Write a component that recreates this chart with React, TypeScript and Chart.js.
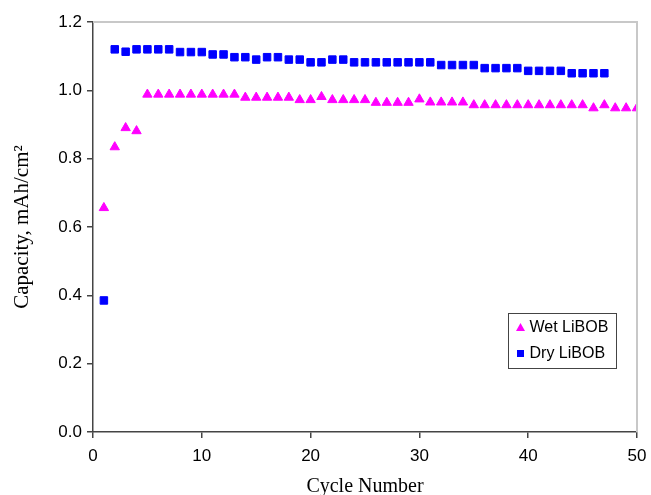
import React, { useEffect, useRef } from "react";
import { Chart, registerables } from "chart.js";

Chart.register(...registerables);

const wetCycles = [1, 2, 3, 4, 5, 6, 7, 8, 9, 10, 11, 12, 13, 14, 15, 16, 17, 18, 19, 20, 21, 22, 23, 24, 25, 26, 27, 28, 29, 30, 31, 32, 33, 34, 35, 36, 37, 38, 39, 40, 41, 42, 43, 44, 45, 46, 47, 48, 49, 50];
const wetCapacity = [
  0.656, 0.834, 0.89, 0.881,
  0.988, 0.988, 0.988, 0.988, 0.988, 0.988, 0.988, 0.988, 0.988,
  0.979, 0.979, 0.979, 0.979, 0.979,
  0.972, 0.972, 0.981,
  0.972, 0.972, 0.972, 0.972,
  0.964, 0.964, 0.964, 0.964,
  0.974,
  0.965, 0.965, 0.965, 0.965,
  0.957, 0.957, 0.957, 0.957, 0.957, 0.957, 0.957, 0.957, 0.957, 0.957, 0.957,
  0.948, 0.957, 0.948, 0.948, 0.948,
];

const dryCycles = [1, 2, 3, 4, 5, 6, 7, 8, 9, 10, 11, 12, 13, 14, 15, 16, 17, 18, 19, 20, 21, 22, 23, 24, 25, 26, 27, 28, 29, 30, 31, 32, 33, 34, 35, 36, 37, 38, 39, 40, 41, 42, 43, 44, 45, 46, 47];
const dryCapacity = [
  0.385, 1.12, 1.113,
  1.12, 1.12, 1.12, 1.12,
  1.112, 1.112, 1.112,
  1.105, 1.105,
  1.097, 1.097,
  1.09,
  1.097, 1.097,
  1.09, 1.09,
  1.082, 1.082,
  1.09, 1.09,
  1.082, 1.082, 1.082, 1.082, 1.082, 1.082, 1.082, 1.082,
  1.074, 1.074, 1.074, 1.074,
  1.065, 1.065, 1.065, 1.065,
  1.057, 1.057, 1.057, 1.057,
  1.05, 1.05, 1.05, 1.05,
];

const seriesNames = ["Wet LiBOB", "Dry LiBOB"];
const xTicks = [0, 10, 20, 30, 40, 50];
const yTicks = [0, 0.2, 0.4, 0.6, 0.8, 1.0, 1.2];
const xTitle = "Cycle Number";
const yTitle = "Capacity, mAh/cm\u00B2";

const MAGENTA = "#FF00FF";
const BLUE = "#0000FF";
const SANS = "'Liberation Sans', Arial, sans-serif";
const SERIF = "'Liberation Serif', 'Times New Roman', serif";

const framePlugin = {
  id: "frame",
  afterDatasetsDraw(chart: any) {
    const { ctx, chartArea } = chart;
    const { left, right, top, bottom } = chartArea;
    ctx.save();
    ctx.strokeStyle = "#c8c8c8";
    ctx.lineWidth = 2;
    ctx.beginPath();
    ctx.moveTo(left, top);
    ctx.lineTo(right, top);
    ctx.lineTo(right, bottom);
    ctx.stroke();
    ctx.restore();
  },
};

const legendPlugin = {
  id: "boxLegend",
  afterDraw(chart: any) {
    const { ctx, chartArea } = chart;
    const bx = chartArea.right - 128.5;
    const by = chartArea.top + 291.5;
    const bw = 108;
    const bh = 55;
    ctx.save();
    ctx.fillStyle = "#ffffff";
    ctx.fillRect(bx, by, bw, bh);
    ctx.strokeStyle = "#444444";
    ctx.lineWidth = 1;
    ctx.strokeRect(bx, by, bw, bh);
    const mx = bx + 12;
    const y1 = by + 14;
    const y2 = by + 40;
    ctx.fillStyle = MAGENTA;
    ctx.beginPath();
    ctx.moveTo(mx, y1 - 4.5);
    ctx.lineTo(mx + 4.5, y1 + 3.5);
    ctx.lineTo(mx - 4.5, y1 + 3.5);
    ctx.closePath();
    ctx.fill();
    ctx.fillStyle = BLUE;
    ctx.fillRect(mx - 3.5, y2 - 3.5, 7, 7);
    ctx.fillStyle = "#000000";
    ctx.font = "16px " + SANS;
    ctx.textBaseline = "middle";
    ctx.textAlign = "left";
    ctx.fillText(seriesNames[0], mx + 9, y1);
    ctx.fillText(seriesNames[1], mx + 9, y2);
    ctx.restore();
  },
};

export default function App() {
  const ref = useRef<HTMLCanvasElement | null>(null);

  useEffect(() => {
    document.body.style.margin = "0";
    const canvas = ref.current;
    if (!canvas) return;
    const chart = new Chart(canvas, {
      type: "scatter",
      data: {
        datasets: [
          {
            label: seriesNames[0],
            data: wetCycles.map((c, i) => ({ x: c, y: wetCapacity[i] })),
            pointStyle: "triangle",
            pointRadius: 5.4,
            borderWidth: 1,
            backgroundColor: MAGENTA,
            borderColor: MAGENTA,
          },
          {
            label: seriesNames[1],
            data: dryCycles.map((c, i) => ({ x: c, y: dryCapacity[i] })),
            pointStyle: "rect",
            pointRadius: 5.3,
            borderWidth: 1,
            backgroundColor: BLUE,
            borderColor: BLUE,
          },
        ],
      },
      plugins: [framePlugin, legendPlugin],
      options: {
        responsive: false,
        animation: false,
        layout: { padding: { top: 22, right: 14, left: 0, bottom: 0 } },
        plugins: {
          legend: { display: false },
          tooltip: { enabled: false },
        },
        scales: {
          x: {
            type: "linear",
            min: 0,
            max: 50,
            afterFit: (s: any) => {
              s.height = 63;
              s.paddingLeft = 0;
              s.paddingRight = 0;
            },
            afterBuildTicks: (s: any) => {
              s.ticks = xTicks.map((v) => ({ value: v }));
            },
            ticks: {
              color: "#000",
              font: { family: SANS, size: 17 },
              padding: 8,
              maxRotation: 0,
            },
            grid: {
              drawOnChartArea: false,
              drawTicks: true,
              tickLength: 6,
              color: "#444",
              lineWidth: 1.5,
            },
            border: { color: "#444", width: 1.5 },
            title: {
              display: true,
              text: xTitle,
              color: "#000",
              font: { family: SERIF, size: 20 },
              padding: { top: 8, bottom: -4 },
            },
          },
          y: {
            type: "linear",
            min: 0,
            max: 1.2,
            afterFit: (s: any) => {
              s.width = 93;
              s.paddingTop = 0;
              s.paddingBottom = 0;
            },
            afterBuildTicks: (s: any) => {
              s.ticks = yTicks.map((v) => ({ value: v }));
            },
            ticks: {
              color: "#000",
              font: { family: SANS, size: 17 },
              padding: 5,
              callback: (v: any) => Number(v).toFixed(1),
            },
            grid: {
              drawOnChartArea: false,
              drawTicks: true,
              tickLength: 6,
              color: "#444",
              lineWidth: 1.5,
            },
            border: { color: "#444", width: 1.5 },
            title: {
              display: true,
              text: yTitle,
              color: "#000",
              font: { family: SERIF, size: 21 },
              padding: { top: 10, bottom: 0 },
            },
          },
        },
      },
    });
    return () => chart.destroy();
  }, []);

  return (
    <div style={{ width: 651, height: 495, position: "relative", background: "#fff" }}>
      <canvas ref={ref} width={651} height={495} />
    </div>
  );
}
